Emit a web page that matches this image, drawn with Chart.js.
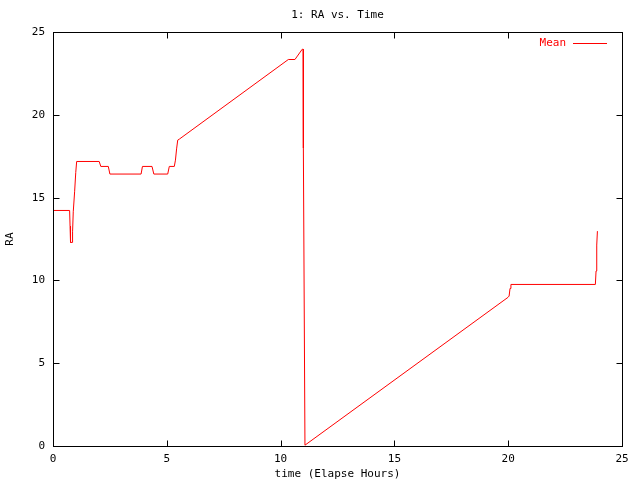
<!DOCTYPE html>
<html>
<head>
<meta charset="utf-8">
<script src="https://cdn.jsdelivr.net/npm/chart.js@4"></script>
<style>
  html, body { margin: 0; padding: 0; background: #fff; }
  canvas { display: block; }
</style>
</head>
<body>
<canvas id="raChart" width="640" height="480"></canvas>
<script>
// elapsed hours and RA
var times = [0, 0.73, 0.75, 0.77, 0.84, 0.86, 0.89, 0.95, 1.0, 1.04,
  2.03, 2.1, 2.43, 2.5, 3.87, 3.93, 4.35, 4.43, 5.04, 5.11, 5.33, 5.38, 5.43, 5.48, 5.55,
  10.34, 10.63, 10.95, 10.99, 11.0, 11.07,
  19.99, 20.04, 20.08, 20.12, 23.83, 23.86, 23.89, 23.92];
var ra = [14.23, 14.23, 13.28, 12.3, 12.3, 12.94, 14.15, 15.36, 16.53, 17.19,
  17.19, 16.89, 16.89, 16.43, 16.43, 16.89, 16.89, 16.43, 16.43, 16.89, 16.89, 17.27, 17.95, 18.48, 18.54,
  23.35, 23.35, 23.97, 23.97, 18.0, 0.05,
  8.98, 9.06, 9.52, 9.76, 9.76, 10.57, 12.14, 12.98];
var seriesLabel = 'Mean';
var titleText = '1: RA vs. Time';
var xLabel = 'time (Elapse Hours)';
var yLabel = 'RA';

var font = "'DejaVu Sans Mono', monospace";
var points = times.map(function (t, i) { return { x: t, y: ra[i] }; });

// gnuplot style frame with inward ticks on all four sides, plus legend
var frame = {
  id: 'frame',
  afterDraw: function (chart) {
    var c = chart.ctx, a = chart.chartArea;
    var L = Math.round(a.left) + 0.5, R = Math.round(a.right) + 0.5;
    var T = Math.round(a.top) + 0.5, B = Math.round(a.bottom) + 0.5;
    c.save();
    c.strokeStyle = '#000';
    c.lineWidth = 1;
    c.strokeRect(L, T, R - L, B - T);
    c.beginPath();
    chart.scales.x.ticks.forEach(function (tk) {
      var px = Math.round(chart.scales.x.getPixelForValue(tk.value)) + 0.5;
      c.moveTo(px, B); c.lineTo(px, B - 6);
      c.moveTo(px, T); c.lineTo(px, T + 6);
    });
    chart.scales.y.ticks.forEach(function (tk) {
      var py = Math.round(chart.scales.y.getPixelForValue(tk.value)) + 0.5;
      c.moveTo(L, py); c.lineTo(L + 6, py);
      c.moveTo(R, py); c.lineTo(R - 6, py);
    });
    c.stroke();
    // legend
    var ly = Math.round(a.top) + 11.5;
    c.fillStyle = '#ff0000';
    c.strokeStyle = '#ff0000';
    c.font = '11px ' + font;
    c.textAlign = 'right';
    c.textBaseline = 'middle';
    c.fillText(chart.data.datasets[0].label, a.right - 56, ly);
    c.beginPath();
    c.moveTo(a.right - 49, ly); c.lineTo(a.right - 15, ly);
    c.stroke();
    c.restore();
  }
};

var ctx = document.getElementById('raChart').getContext('2d');
var myChart = new Chart(ctx, {
  type: 'line',
  data: {
    datasets: [{
      label: seriesLabel,
      data: points,
      borderColor: '#ff0000',
      borderWidth: 1,
      pointRadius: 0,
      tension: 0,
      fill: false
    }]
  },
  options: {
    responsive: false,
    animation: false,
    layout: { padding: { left: 0, right: 18, top: 0, bottom: 0 } },
    plugins: {
      legend: { display: false },
      tooltip: { enabled: false },
      title: {
        display: true,
        text: titleText,
        fullSize: false,
        color: '#000',
        font: { family: font, size: 11, weight: 'normal' },
        padding: { top: 9, bottom: 10 }
      }
    },
    scales: {
      x: {
        type: 'linear',
        min: 0, max: 25,
        grid: { display: false, drawTicks: false },
        border: { display: false },
        ticks: { stepSize: 5, padding: 7, color: '#000', maxRotation: 0, font: { family: font, size: 11 } },
        title: { display: true, text: xLabel, color: '#000', font: { family: font, size: 11 }, padding: { top: 0, bottom: -1 } },
        afterFit: function (s) { s.height = 34; }
      },
      y: {
        min: 0, max: 25,
        grid: { display: false, drawTicks: false },
        border: { display: false },
        ticks: { stepSize: 5, padding: 8, color: '#000', font: { family: font, size: 11 } },
        title: { display: true, text: yLabel, color: '#000', font: { family: font, size: 11 }, padding: { top: 4, bottom: 0 } },
        afterFit: function (s) { s.width = 53; }
      }
    }
  },
  plugins: [frame]
});
</script>
</body>
</html>
